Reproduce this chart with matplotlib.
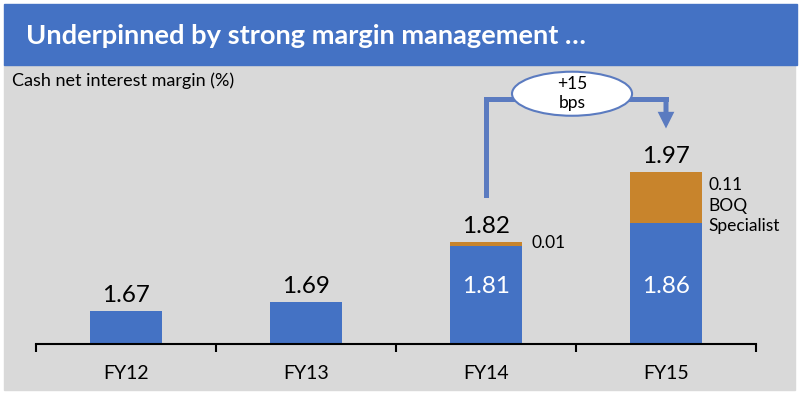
import matplotlib.pyplot as plt
from matplotlib.patches import Rectangle, Ellipse

# data
years = ["FY12", "FY13", "FY14", "FY15"]
core_nim = [1.67, 1.69, 1.81, 1.86]
specialist = [0.0, 0.0, 0.01, 0.11]
totals = [1.67, 1.69, 1.82, 1.97]

blue = "#4472C4"
orange = "#C8842C"
arrow_blue = "#5B7BC0"
plt.rcParams['font.family'] = ['Lato', 'DejaVu Sans']

fig = plt.figure(figsize=(8.02, 3.99), dpi=100)
fig.patch.set_facecolor("white")

# background panels (figure coords)
fig.patches.append(Rectangle((4 / 802, 1 - 390 / 399), 791 / 802, 326 / 399,
                             transform=fig.transFigure, color="#D9D9D9", zorder=-2))
fig.patches.append(Rectangle((4 / 802, 1 - 65 / 399), 793 / 802, 61 / 399,
                             transform=fig.transFigure, color=blue, zorder=-2))
fig.text(26 / 802, 1 - 36 / 399, "Underpinned by strong margin management …",
         color="white", fontsize=19.6, fontweight="bold", va="center", ha="left")
fig.text(12 / 802, 1 - 81 / 399, "Cash net interest margin (%)",
         fontsize=13, va="center", ha="left")

ymin, ymax = 1.599, 2.201
ax = fig.add_axes([36 / 802, 55 / 399, 720 / 802, 279 / 399])
ax.set_zorder(1)
ax.patch.set_alpha(0)
x = range(len(years))
ax.bar(x, core_nim, width=0.405, color=blue, zorder=2)
ax.bar(x, specialist, width=0.405, bottom=core_nim, color=orange, zorder=2)
ax.set_xlim(-0.5, 3.5)
ax.set_ylim(ymin, ymax)

for s in ["top", "right", "left"]:
    ax.spines[s].set_visible(False)
ax.spines["bottom"].set_linewidth(1.5)
ax.set_yticks([])
ax.set_xticks(list(x))
ax.set_xticklabels(years, fontsize=14)
ax.tick_params(axis="x", which="major", length=0, pad=15)
ax.set_xticks([i - 0.5 for i in range(len(years) + 1)], minor=True)
ax.tick_params(axis="x", which="minor", length=6, width=1.5, direction="out")

# total labels
for i, t in enumerate(totals):
    ax.text(i, t + 0.019, f"{t:.2f}", ha="center", va="baseline", fontsize=17.5)
# inside labels for stacked bars
for i in [2, 3]:
    ax.text(i, ymin + 0.123, f"{core_nim[i]:.2f}",
            ha="center", va="center", fontsize=17.5, color="white")
ax.text(2.25, core_nim[2] + specialist[2] - 0.004, f"{specialist[2]:.2f}",
        ha="left", va="center", fontsize=12.5)
ax.text(3.235, core_nim[3] + specialist[3] - 0.073, f"{specialist[3]:.2f}\nBOQ\nSpecialist",
        ha="left", va="center", fontsize=12.5, linespacing=1.35)

# growth arrow FY14 -> FY15
y0 = totals[2] + 0.10
ytop = 2.127
ytip = totals[3] + 0.094
ax.plot([2, 2, 3], [y0, ytop, ytop], color=arrow_blue, lw=3.6,
        solid_joinstyle="miter", solid_capstyle="projecting", zorder=3, clip_on=False)
ax.annotate("", xy=(3, ytip), xytext=(3, ytop),
            arrowprops=dict(arrowstyle="simple,head_length=1.2,head_width=1.2,tail_width=0.36",
                            mutation_scale=10, shrinkA=0, shrinkB=0,
                            color=arrow_blue, lw=0), zorder=3, annotation_clip=False)
ax.add_patch(Ellipse((2.478, 2.139), 0.667, 0.095, facecolor="white",
                     edgecolor=arrow_blue, lw=1.5, zorder=4, clip_on=False))
bps = round((totals[3] - totals[2]) * 100)
ax.text(2.478, 2.139, f"+{bps}\nbps", ha="center", va="center", fontsize=12.5,
        zorder=5, linespacing=1.25)

fig.savefig("out.png", dpi=100)
